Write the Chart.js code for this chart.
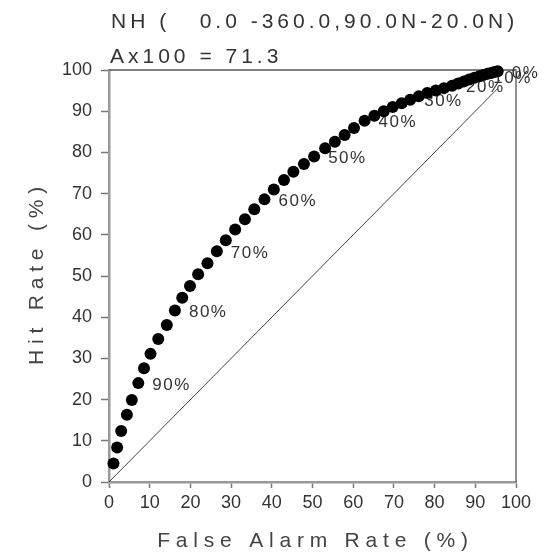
<!DOCTYPE html>
<html>
<head>
<meta charset="utf-8">
<script src="https://cdn.jsdelivr.net/npm/chart.js@4/dist/chart.umd.min.js"></script>
<style>
  html, body { margin: 0; padding: 0; background: #fff; }
  canvas { display: block; }
</style>
</head>
<body>
<canvas id="c" width="550" height="552"></canvas>
<script>
// ---- data ----
const falseAlarmRate = [1.1, 2.0, 3.0, 4.4, 5.6, 7.2, 8.6, 10.2, 12.1, 14.2,
  16.2, 18.0, 19.9, 21.9, 24.2, 26.5, 28.7, 31.0, 33.4, 35.7,
  38.2, 40.5, 43.0, 45.3, 47.9, 50.4, 53.1, 55.5, 57.9, 60.2,
  62.8, 65.2, 67.5, 69.7, 71.9, 74.0, 76.1, 78.2, 80.3, 82.3,
  84.3, 85.8, 87.2, 88.5, 89.8, 91.0, 92.0, 93.0, 93.9, 94.7, 95.5];
const hitRate = [4.5, 8.4, 12.4, 16.3, 19.9, 24.0, 27.6, 31.1, 34.7, 38.1,
  41.6, 44.7, 47.6, 50.4, 53.1, 56.0, 58.7, 61.3, 63.8, 66.2,
  68.6, 71.0, 73.3, 75.3, 77.2, 79.0, 81.0, 82.6, 84.2, 85.9,
  87.7, 88.9, 90.0, 91.0, 91.9, 92.8, 93.6, 94.4, 95.0, 95.6,
  96.2, 96.7, 97.2, 97.7, 98.1, 98.5, 98.8, 99.1, 99.3, 99.5, 99.7];
const labelIndices = [5, 10, 15, 20, 25, 30, 35, 40, 45, 50];
const labelTexts = ['90%', '80%', '70%', '60%', '50%', '40%', '30%', '20%', '10%', '0%'];
const diagonalEnd = 95.5;
const tickValues = [0, 10, 20, 30, 40, 50, 60, 70, 80, 90, 100];
const titleLine1 = 'NH (   0.0 -360.0,90.0N-20.0N)';
const titleLine2 = 'Ax100 = 71.3';
const xTitle = 'False Alarm Rate (%)';
const yTitle = 'Hit Rate (%)';

const points = falseAlarmRate.map((v, i) => ({ x: v, y: hitRate[i] }));
const diagonal = [{ x: 0, y: 0 }, { x: diagonalEnd, y: diagonalEnd }];

const FONT = '"Liberation Sans", Arial, sans-serif';

const framePlugin = {
  id: 'frameAndLabels',
  beforeDatasetsDraw(chart) {
    const { ctx, chartArea: a, scales: { x, y } } = chart;
    ctx.save();
    // top and right frame lines
    ctx.strokeStyle = '#555';
    ctx.lineWidth = 1.3;
    ctx.beginPath();
    ctx.moveTo(a.left, a.top);
    ctx.lineTo(a.right, a.top);
    ctx.lineTo(a.right, a.bottom);
    ctx.stroke();
    // threshold labels (drawn under the points)
    ctx.fillStyle = '#333';
    ctx.font = '17px ' + FONT;
    ctx.letterSpacing = '1.5px';
    ctx.textAlign = 'left';
    ctx.textBaseline = 'middle';
    labelIndices.forEach((idx, k) => {
      const px = x.getPixelForValue(falseAlarmRate[idx]);
      const py = y.getPixelForValue(hitRate[idx]);
      ctx.fillText(labelTexts[k], px + 14, py + 2);
    });
    ctx.restore();
  },
  afterDraw(chart) {
    const { ctx, chartArea: a } = chart;
    ctx.save();
    ctx.fillStyle = '#333';
    ctx.textBaseline = 'alphabetic';
    // header lines
    ctx.font = '21px ' + FONT;
    ctx.letterSpacing = '4px';
    ctx.textAlign = 'left';
    ctx.fillText(titleLine1, a.left + 2, 28);
    ctx.fillText(titleLine2, a.left + 1, 63);
    // axis titles
    ctx.letterSpacing = '5.8px';
    ctx.textAlign = 'center';
    ctx.fillStyle = '#444';
    ctx.fillText(xTitle, (a.left + a.right) / 2 + 3, 547);
    ctx.translate(43, (a.top + a.bottom) / 2);
    ctx.rotate(-Math.PI / 2);
    ctx.fillText(yTitle, 3, 0);
    ctx.restore();
  }
};

const tickFont = { family: FONT, size: 18 };

new Chart(document.getElementById('c'), {
  type: 'scatter',
  data: {
    datasets: [
      {
        data: diagonal,
        showLine: true,
        borderColor: '#444',
        borderWidth: 1,
        pointRadius: 0,
        order: 2
      },
      {
        data: points,
        showLine: false,
        pointRadius: 6,
        pointBackgroundColor: '#000',
        pointBorderColor: '#000',
        pointBorderWidth: 0,
        clip: false,
        order: 1
      }
    ]
  },
  options: {
    responsive: false,
    devicePixelRatio: 1,
    animation: false,
    layout: { padding: { left: 0, top: 70, right: 34, bottom: 0 } },
    plugins: { legend: { display: false }, tooltip: { enabled: false } },
    scales: {
      x: {
        type: 'linear',
        min: 0, max: 100,
        afterFit(s) { s.height = 70; },
        afterBuildTicks(s) { s.ticks = tickValues.map(v => ({ value: v })); },
        ticks: { color: '#333', font: tickFont, padding: 4, maxRotation: 0 },
        grid: { drawOnChartArea: false, drawTicks: true, tickLength: 6, tickColor: '#777', tickWidth: 1.5 },
        border: { display: true, color: '#999', width: 2.5 }
      },
      y: {
        type: 'linear',
        min: 0, max: 100,
        afterFit(s) { s.width = 109; },
        afterBuildTicks(s) { s.ticks = tickValues.map(v => ({ value: v })); },
        ticks: { color: '#333', font: tickFont, padding: 9 },
        grid: { drawOnChartArea: false, drawTicks: true, tickLength: 8, tickColor: '#777', tickWidth: 1.5 },
        border: { display: true, color: '#999', width: 2.5 }
      }
    }
  },
  plugins: [framePlugin]
});
</script>
</body>
</html>
